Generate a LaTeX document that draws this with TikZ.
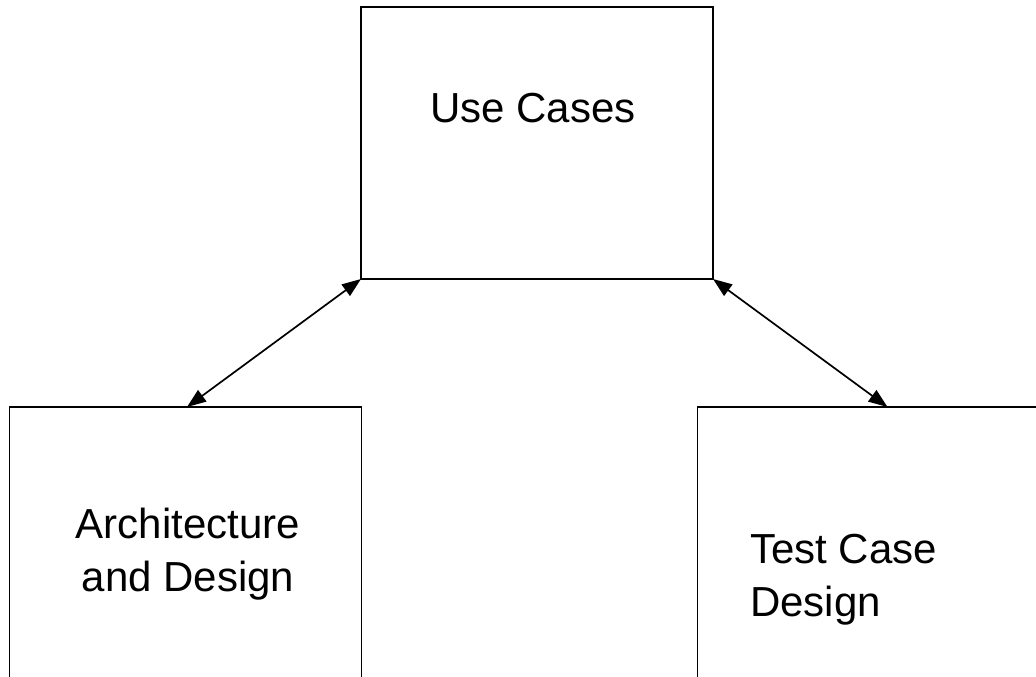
\documentclass[tikz,border=0pt]{standalone}
\usepackage{fontspec}
\setmainfont{Liberation Sans}
\usetikzlibrary{arrows.meta,calc}
% multi-line label, aligned on the baseline of its first line
\newcommand{\lines}[2]{\begin{tabular}[t]{@{}#1@{}}#2\end{tabular}}
\begin{document}
\begin{tikzpicture}[x=1pt,y=-1pt,
  box/.style={draw=black,line width=1.9pt,inner sep=0pt,outer sep=0pt,
    minimum width=352pt,anchor=north west},
  lbl/.style={inner sep=0pt,font=\fontsize{42}{53}\selectfont},
  tip/.tip={Triangle[length=19pt,width=14pt]},
  link/.style={line width=1.7pt,tip-tip}]
  \useasboundingbox (0,0) rectangle (1036,677);
  \clip (0,0) rectangle (1036,677);
  % the three boxes
  \node[box,minimum height=272pt] (uc) at (361,7) {};
  \node[box,minimum height=360pt] (ad) at (9.5,407) {};
  \node[box,minimum height=360pt] (tc) at (697.5,407) {};
  % texts
  \node[lbl,anchor=base] (uct) at (533,122) {Use Cases};
  \node[lbl,anchor=base] (adt) at (188,538) {\lines{c}{Architecture\\and Design}};
  \node[lbl,anchor=base west] (tct) at (750,563) {\lines{l}{Test Case\\Design}};
  % arrow targets on the lower boxes
  \coordinate (adin) at ($(ad.north west)+(177.5,0)$);
  \coordinate (tcin) at ($(tc.north west)+(190,0)$);
  % connectors
  \draw[link] (uc.south west) -- (adin);
  \draw[link] (uc.south east) -- (tcin);
\end{tikzpicture}
\end{document}
